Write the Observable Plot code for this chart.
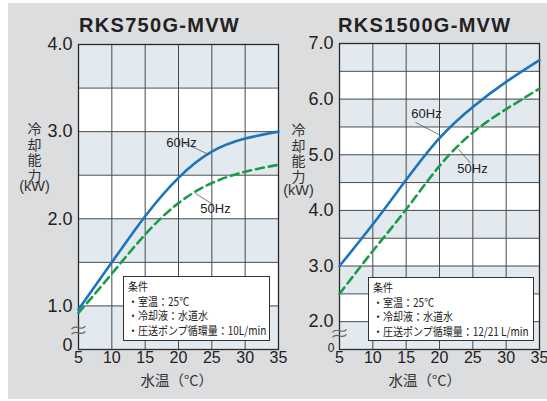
<!DOCTYPE html>
<html><head><meta charset="utf-8">
<script src="https://cdn.jsdelivr.net/npm/d3@7"></script>
<script src="https://cdn.jsdelivr.net/npm/@observablehq/plot@0.6"></script>
<style>
body{margin:0;background:#fff;}
#wrap{position:relative;width:547px;height:401px;overflow:hidden;}
#bg{position:absolute;left:8px;top:3px;width:539px;height:396px;background:#dcdddf;}
.plot{position:absolute;top:0;}
.title{position:absolute;font-family:"Liberation Sans",Arial,sans-serif;font-weight:bold;font-size:20px;line-height:20px;letter-spacing:1.3px;color:#222;white-space:nowrap;}
.cond{position:absolute;box-sizing:border-box;background:#fff;border:1px solid #333;font-family:"Noto Sans CJK JP",sans-serif;font-size:11.5px;line-height:14.7px;color:#222;padding:2px 4px;white-space:nowrap;}
.cond span{display:block;transform:scaleX(0.87);transform-origin:left center;}
</style>
</head><body>
<div id="wrap"><div id="bg"></div></div>
<script>
// ---- data ----
const temps = [5, 10, 15, 20, 25, 30, 35];
const cap750_60Hz = [0.96, 1.50, 2.03, 2.47, 2.77, 2.92, 3.00];
const cap750_50Hz = [0.92, 1.37, 1.82, 2.18, 2.41, 2.54, 2.62];
const cap1500_60Hz = [3.00, 3.75, 4.55, 5.30, 5.86, 6.31, 6.70];
const cap1500_50Hz = [2.50, 3.27, 4.02, 4.80, 5.40, 5.82, 6.19];
const xTicks = [5, 10, 15, 20, 25, 30, 35];
const yTicks750 = [1, 2, 3, 4];
const yTicks1500 = [2, 3, 4, 5, 6, 7];
const yGrid750 = [0.5, 1, 1.5, 2, 2.5, 3, 3.5, 4];
const yGrid1500 = [1.5, 2, 2.5, 3, 3.5, 4, 4.5, 5, 5.5, 6, 6.5, 7];
const bands750 = [0.5, 1.5, 2.5, 3.5];
const bands1500 = [1.5, 2.5, 3.5, 4.5, 5.5, 6.5];
const titles = ["RKS750G-MVW", "RKS1500G-MVW"];
const yTitle = "冷却能力";
const yUnit = "(kW)";
const xTitle = "水温（°C）";
const labels750 = [
  {text: "60Hz", x: 20.45, y: 2.87, anchor: "end"},
  {text: "50Hz", x: 25.55, y: 2.11, anchor: "start"}
];
const leaders750 = [
  {x1: 20.75, y1: 2.87, x2: 24.5, y2: 2.74},
  {x1: 22.55, y1: 2.29, x2: 25.25, y2: 2.16}
];
const labels1500 = [
  {text: "60Hz", x: 18.05, y: 5.74, anchor: "end"},
  {text: "50Hz", x: 24.95, y: 4.74, anchor: "start"}
];
const leaders1500 = [
  {x1: 16.4, y1: 5.58, x2: 20.15, y2: 5.35},
  {x1: 22.85, y1: 5.10, x2: 24.65, y2: 4.85}
];
const cond750 = ["条件", "・室温：25℃", "・冷却液：水道水", "・圧送ポンプ循環量：10L/min"];
const cond1500 = ["条件", "・室温：25℃", "・冷却液：水道水", "・圧送ポンプ循環量：12/21 L/min"];

const BLUE = "#1b74c0", GREEN = "#1c9a4a", BAND = "#e2eaf0", GRID = "#4a4a4a";
const CJK = "'Noto Sans CJK JP','Liberation Sans',sans-serif";

// axis-break symbol: two small waves
const breakSymbol = {
  draw(ctx, size) {
    const r = Math.sqrt(size / Math.PI);
    for (const off of [-2.6, 2.6]) {
      ctx.moveTo(-r, off + 1.5);
      ctx.bezierCurveTo(-r / 3, off - 4.5, r / 3, off + 4.5, r, off - 1.5);
    }
  }
};

function makeChart(c) {
  const d60 = temps.map((t, i) => ({t, v: c.v60[i]}));
  const d50 = temps.map((t, i) => ({t, v: c.v50[i]}));
  const yMin = c.yDomain[0];
  const svg = Plot.plot({
    width: c.width, height: 401,
    marginLeft: c.ml, marginRight: c.mr, marginTop: c.mt, marginBottom: 52,
    x: {domain: [xTicks[0], xTicks[xTicks.length - 1]]},
    y: {domain: c.yDomain},
    style: {background: "transparent", overflow: "visible", color: "#222",
            fontFamily: "'Liberation Sans Narrow','Liberation Sans',Arial,sans-serif"},
    marks: [
      Plot.frame({fill: "#fff", stroke: null}),
      Plot.rect(c.bands, {x1: () => xTicks[0], x2: () => xTicks[xTicks.length - 1],
                          y1: d => d, y2: d => d + 0.5, fill: BAND}),
      Plot.ruleY(c.grid, {stroke: GRID, strokeWidth: 1}),
      Plot.ruleX(xTicks, {stroke: GRID, strokeWidth: 1}),
      Plot.frame({stroke: "#2a2a2a", strokeWidth: 1.3}),
      Plot.line(d50, {x: "t", y: "v", stroke: GREEN, strokeWidth: 2.6, strokeDasharray: "8,5", curve: "natural"}),
      Plot.line(d60, {x: "t", y: "v", stroke: BLUE, strokeWidth: 2.6, curve: "natural"}),
      Plot.link(c.leaders, {x1: "x1", y1: "y1", x2: "x2", y2: "y2", stroke: "#555", strokeWidth: 0.8}),
      Plot.text(c.labels, {x: "x", y: "y", text: "text", textAnchor: d => d.anchor,
                           fontSize: 13, fill: "#222", fontFamily: "'Liberation Sans',Arial,sans-serif"}),
      Plot.axisX(xTicks, {tickSize: 0, tickPadding: 2, fontSize: 16, label: null}),
      Plot.axisY(c.yTicks, {tickSize: 0, tickPadding: 6, fontSize: 18, label: null, tickFormat: d => d.toFixed(1)}),
      Plot.text([yMin], {x: () => xTicks[0], y: d => d, text: () => "0", textAnchor: "end",
                         dx: c.zeroDx, dy: c.zeroDy, fontSize: c.zeroSize}),
      Plot.dot([c.breakY], {x: () => xTicks[0], y: d => d, symbol: breakSymbol, r: 7,
                            fill: "none", stroke: "#666", strokeWidth: 1.2}),
      Plot.text([yTitle], {frameAnchor: "left", text: d => d, dx: c.ytDx, dy: c.ytDy, fontSize: 14,
                           textAnchor: "middle", fill: "#333", fontFamily: CJK}),
      Plot.text([yUnit], {frameAnchor: "left", text: d => d, dx: c.ytDx, dy: c.yuDy, fontSize: 14.5,
                          textAnchor: "middle", fill: "#333", fontFamily: "'Liberation Sans',Arial,sans-serif"}),
      Plot.text([xTitle], {frameAnchor: "bottom-left", text: d => d, dx: c.xtDx, dy: 36, fontSize: 14.5,
                           textAnchor: "start", fill: "#333", fontFamily: CJK})
    ]
  });
  // set the stacked y-axis title in vertical writing mode
  d3.select(svg).selectAll("text").filter(function() { return this.textContent === yTitle; })
    .attr("dy", null)
    .style("writing-mode", "vertical-rl")
    .style("letter-spacing", "1.5px");
  return svg;
}

const wrap = document.getElementById("wrap");
const p1 = makeChart({width: 280, ml: 78, mr: 2, mt: 44, yDomain: [0.5, 4], v60: cap750_60Hz, v50: cap750_50Hz,
  bands: bands750, grid: yGrid750, yTicks: yTicks750, labels: labels750, leaders: leaders750,
  zeroDx: -6, zeroDy: -4, zeroSize: 18, breakY: 0.72, ytDx: -44, ytDy: -48.5, yuDy: -10.5, xtDx: 62});
p1.classList.add("plot"); p1.style.left = "0px";
wrap.appendChild(p1);
const p2 = makeChart({width: 277, ml: 69, mr: 8, mt: 43, yDomain: [1.5, 7], v60: cap1500_60Hz, v50: cap1500_50Hz,
  bands: bands1500, grid: yGrid1500, yTicks: yTicks1500, labels: labels1500, leaders: leaders1500,
  zeroDx: -5, zeroDy: -1.5, zeroSize: 12, breakY: 1.79, ytDx: -41, ytDy: -47, yuDy: -6, xtDx: 49});
p2.classList.add("plot"); p2.style.left = "270px";
wrap.appendChild(p2);

function addTitle(text, left) {
  const d = document.createElement("div");
  d.className = "title"; d.textContent = text;
  d.style.left = left + "px"; d.style.top = "15px";
  wrap.appendChild(d);
}
addTitle(titles[0], 79);
addTitle(titles[1], 338);

function addCond(lines, left, top, width, height) {
  const d = document.createElement("div");
  d.className = "cond";
  Object.assign(d.style, {left: left + "px", top: top + "px", width: width + "px", height: height + "px"});
  lines.forEach(l => { const s = document.createElement("span"); s.textContent = l; d.appendChild(s); });
  wrap.appendChild(d);
}
addCond(cond750, 123, 276, 147, 65);
addCond(cond1500, 368, 277, 166, 64);
</script>
</body></html>
